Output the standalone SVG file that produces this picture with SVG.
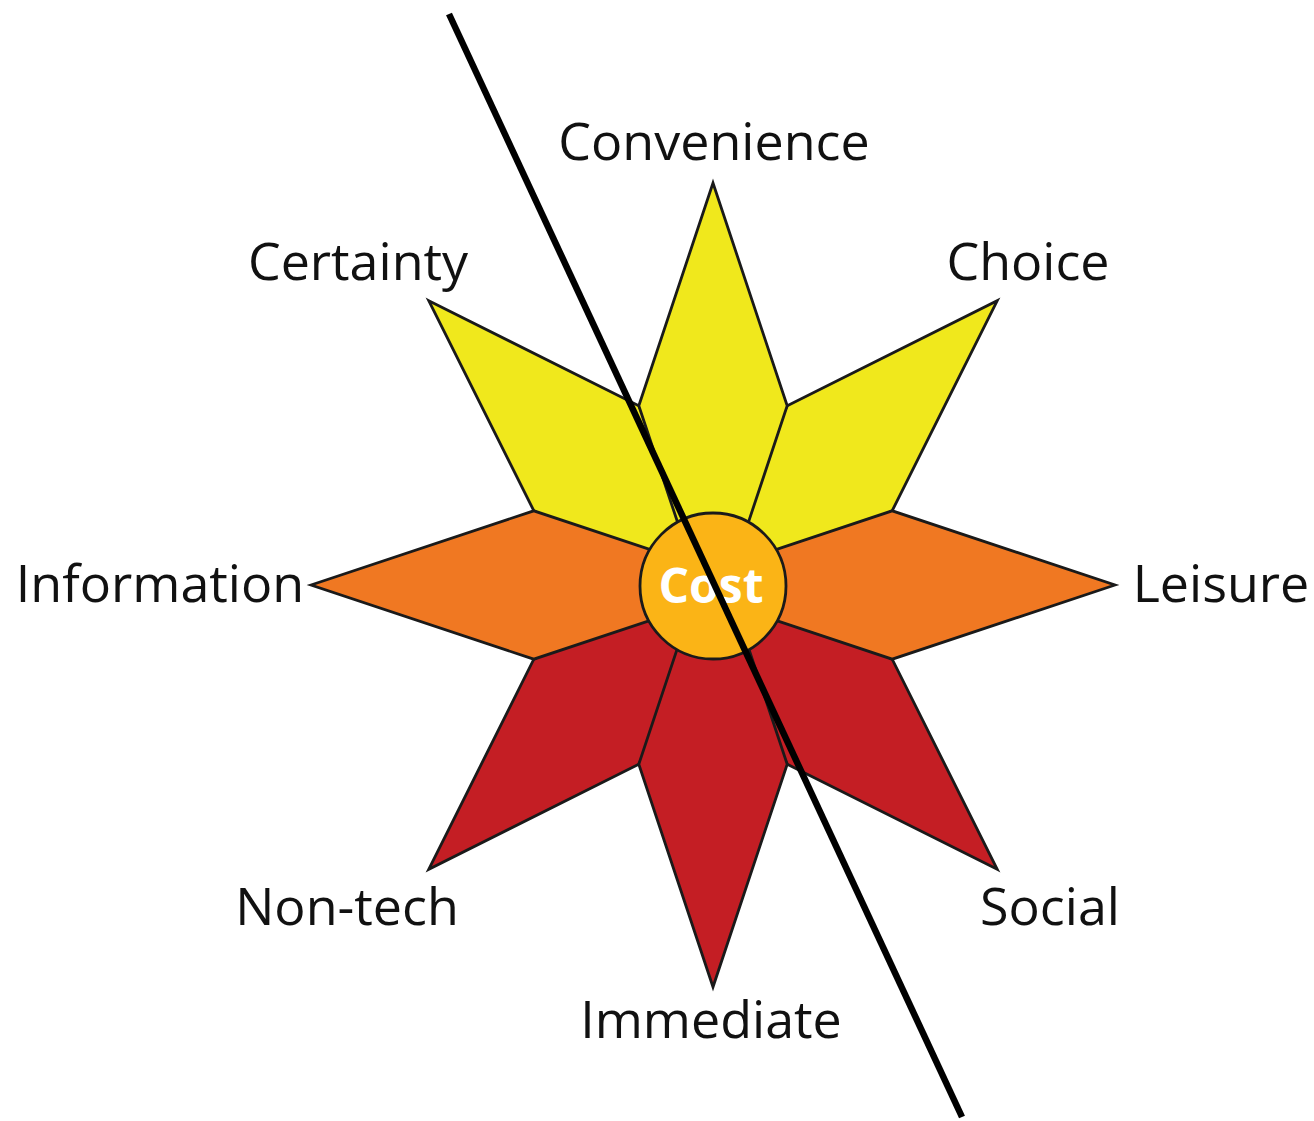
<svg xmlns="http://www.w3.org/2000/svg" width="1314" height="1121" viewBox="0 0 1314 1121">
  <style>
    .petal { stroke: #1a1a1a; stroke-width: 2.8; stroke-linejoin: miter; }
    .yellow { fill: #F0E81C; }
    .orange { fill: #F07822; }
    .red { fill: #C41E24; }
    .label { font-family: "Open Sans", "Liberation Sans", sans-serif; font-size: 52px; fill: #111; text-anchor: middle; }
    .hub { font-family: "Open Sans", "Liberation Sans", sans-serif; font-size: 48px; font-weight: bold; fill: #fff; text-anchor: middle; }
  </style>
  <defs>
    <!-- one rhombus petal pointing up from the star centre -->
    <path id="petal" d="M0,-402 L74.2,-179.2 L0,43.6 L-74.2,-179.2 Z"/>
  </defs>

  <rect width="1314" height="1121" fill="#fff"/>

  <!-- diagonal petals sit underneath the cardinal ones -->
  <g id="node-choice"><use href="#petal" class="petal yellow" transform="translate(713,585) rotate(45)"/></g>
  <g id="node-certainty"><use href="#petal" class="petal yellow" transform="translate(713,585) rotate(-45)"/></g>
  <g id="node-social"><use href="#petal" class="petal red" transform="translate(713,585) rotate(135)"/></g>
  <g id="node-nontech"><use href="#petal" class="petal red" transform="translate(713,585) rotate(-135)"/></g>

  <!-- cardinal petals -->
  <g id="node-convenience"><use href="#petal" class="petal yellow" transform="translate(713,585)"/></g>
  <g id="node-leisure"><use href="#petal" class="petal orange" transform="translate(713,585) rotate(90)"/></g>
  <g id="node-information"><use href="#petal" class="petal orange" transform="translate(713,585) rotate(-90)"/></g>
  <g id="node-immediate"><use href="#petal" class="petal red" transform="translate(713,585) rotate(180)"/></g>

  <!-- hub -->
  <g id="node-cost">
    <circle cx="713" cy="586" r="73" fill="#FBB416" stroke="#1a1a1a" stroke-width="2.8"/>
    <text class="hub" x="711" y="603">Cost</text>
  </g>

  <!-- labels -->
  <g id="labels">
    <text class="label" x="714" y="160">Convenience</text>
    <text class="label" x="358" y="280">Certainty</text>
    <text class="label" x="1028" y="280">Choice</text>
    <text class="label" x="160" y="602">Information</text>
    <text class="label" x="1221" y="602">Leisure</text>
    <text class="label" x="347" y="925">Non-tech</text>
    <text class="label" x="1050" y="925">Social</text>
    <text class="label" x="711" y="1038">Immediate</text>
  </g>

  <!-- dividing stroke across the star -->
  <g id="connectors">
    <line x1="449" y1="14" x2="962" y2="1117" stroke="#000" stroke-width="6.5"/>
  </g>
</svg>
